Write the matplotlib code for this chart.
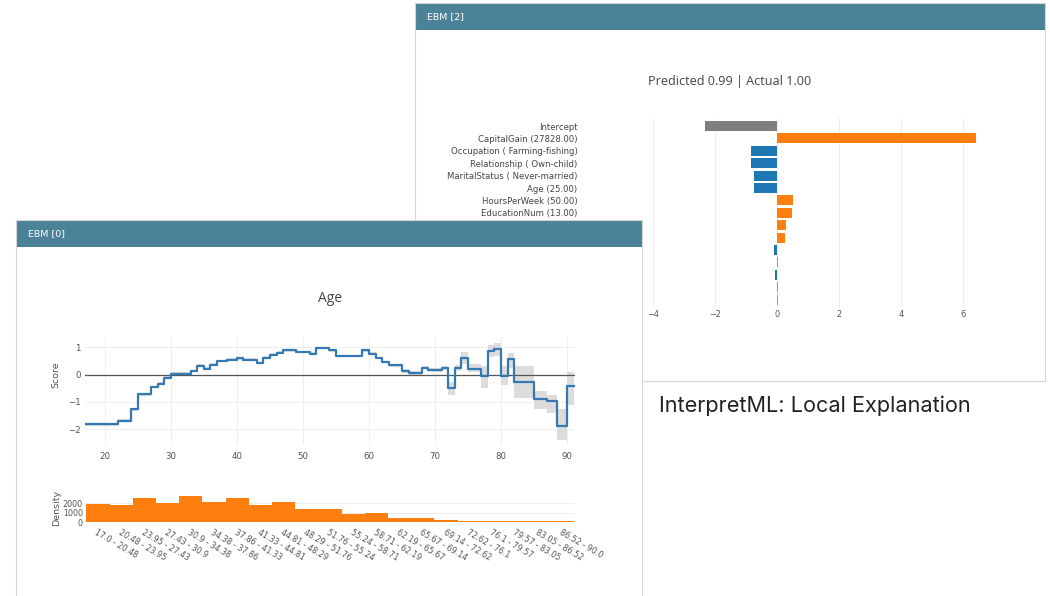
import matplotlib
matplotlib.use('Agg')
import matplotlib.pyplot as plt
from matplotlib.patches import Rectangle
import numpy as np

W, H = 1050, 596

# ---- Local explanation (EBM [2]) ----
feat_labels = ['Intercept', 'CapitalGain (27828.00)', 'Occupation ( Farming-fishing)',
               'Relationship ( Own-child)', 'MaritalStatus ( Never-married)', 'Age (25.00)',
               'HoursPerWeek (50.00)', 'EducationNum (13.00)', 'Education ( Bachelors)',
               'Gender ( Male)', 'Race ( White)', 'CapitalLoss (0.00)', 'WorkClass ( Private)',
               'NativeCountry ( United-States)', 'fnlwgt (184000.00)']
feat_values = [-2.31, 6.43, -0.84, -0.82, -0.74, -0.73, 0.54, 0.48, 0.29, 0.27,
               -0.08, 0.05, -0.05, 0.04, 0.03]
bar_ticks = [-4, -2, 0, 2, 4, 6]
bar_tick_labels = ['−4', '−2', '0', '2', '4', '6']

# ---- Age shape function (EBM [0]) ----
age_starts = [17, 22, 24, 25, 27, 28, 29, 30, 33, 34, 35, 36, 37, 38.5, 40, 41, 43, 44,
              45, 46, 47, 49, 51, 52, 54, 55, 59, 60, 61, 62, 63, 65, 66, 68, 69, 71,
              72, 73, 74, 75, 77, 78, 79, 80, 81, 82, 85, 87, 88.5, 90]
age_end = 91
age_score = [-1.82, -1.68, -1.27, -0.72, -0.45, -0.33, -0.11, 0.04, 0.13, 0.33, 0.22, 0.37,
             0.50, 0.55, 0.60, 0.55, 0.43, 0.62, 0.73, 0.80, 0.89, 0.83, 0.77, 0.97, 0.89,
             0.68, 0.89, 0.77, 0.61, 0.46, 0.34, 0.12, 0.06, 0.26, 0.18, 0.24,
             -0.48, 0.24, 0.61, 0.21, -0.06, 0.87, 0.93, -0.06, 0.56, -0.27, -0.88, -0.97,
             -1.88, -0.43]
age_lo = [-1.87, -1.73, -1.32, -0.77, -0.50, -0.38, -0.16, -0.01, 0.08, 0.28, 0.17, 0.32,
          0.45, 0.50, 0.55, 0.50, 0.38, 0.57, 0.68, 0.75, 0.84, 0.78, 0.72, 0.92, 0.84,
          0.63, 0.84, 0.72, 0.56, 0.41, 0.29, 0.05, -0.01, 0.19, 0.11, 0.16,
          -0.76, 0.14, 0.39, 0.10, -0.50, 0.65, 0.70, -0.38, 0.24, -0.87, -1.25, -1.40,
          -2.40, -1.10]
age_hi = [-1.77, -1.63, -1.22, -0.67, -0.40, -0.28, -0.06, 0.09, 0.18, 0.38, 0.27, 0.42,
          0.55, 0.60, 0.65, 0.60, 0.48, 0.67, 0.78, 0.85, 0.94, 0.88, 0.82, 1.02, 0.94,
          0.73, 0.94, 0.82, 0.66, 0.51, 0.39, 0.19, 0.13, 0.33, 0.25, 0.32,
          -0.27, 0.34, 0.83, 0.40, 0.30, 1.10, 1.15, 0.30, 0.78, 0.30, -0.60, -0.73,
          -1.25, 0.10]
score_xticks = [20, 30, 40, 50, 60, 70, 80, 90]
score_yticks = [1, 0, -1, -2]

bin_labels = ['17.0 - 20.48', '20.48 - 23.95', '23.95 - 27.43', '27.43 - 30.9',
              '30.9 - 34.38', '34.38 - 37.86', '37.86 - 41.33', '41.33 - 44.81',
              '44.81 - 48.29', '48.29 - 51.76', '51.76 - 55.24', '55.24 - 58.71',
              '58.71 - 62.19', '62.19 - 65.67', '65.67 - 69.14', '69.14 - 72.62',
              '72.62 - 76.1', '76.1 - 79.57', '79.57 - 83.05', '83.05 - 86.52', '86.52 - 90.0']
bin_counts = [1930, 1820, 2570, 2000, 2790, 2110, 2610, 1790, 2140, 1390, 1360, 820, 960,
              460, 390, 180, 140, 110, 100, 70, 100]
density_yticks = [0, 1000, 2000]

HDR = '#4b8298'
BORDER = '#d6d6d6'
ORANGE = '#ff7f0e'
BLUE = '#1f77b4'
GRAY = '#7f7f7f'
TXT = '#444444'

fig = plt.figure(figsize=(W / 100, H / 100), dpi=100)
fig.patch.set_facecolor('white')


def box(x0, y0, x1, y1, z):
    return fig.add_axes([x0 / W, 1 - y1 / H, (x1 - x0) / W, (y1 - y0) / H], zorder=z)


def panel(x0, y0, x1, y1, hdr_h, title, z):
    ax = box(x0, y0, x1, y1, z)
    ax.set_xlim(x0, x1)
    ax.set_ylim(y1, y0)
    ax.set_xticks([])
    ax.set_yticks([])
    ax.set_facecolor('white')
    for s in ax.spines.values():
        s.set_color(BORDER)
        s.set_linewidth(0.8)
    ax.add_patch(Rectangle((x0, y0), x1 - x0, hdr_h, color=HDR, lw=0))
    ax.text(x0 + 12, y0 + hdr_h / 2, title, color='white', fontsize=6.8,
            va='center', ha='left')
    return ax


# ---------- back panel ----------
pb = panel(415, 3, 1045, 381, 27, 'EBM [2]', 0)
pb.text(730, 81, 'Predicted 0.99 | Actual 1.00', ha='center', va='center',
        fontsize=9.1, family='Open Sans', color=TXT)

axb = box(640, 118, 1000, 307, 1)
axb.set_facecolor('none')
ypos = -np.arange(len(feat_values))
cols = [GRAY] + [ORANGE if v > 0 else BLUE for v in feat_values[1:]]
axb.barh(ypos, feat_values, height=0.8, color=cols, zorder=2)
axb.set_xlim(-4.41, 7.2)
axb.set_ylim(-14.6, 0.65)
axb.set_yticks(ypos, feat_labels)
axb.tick_params(axis='y', length=0, pad=45, labelsize=6.1, labelcolor=TXT)
axb.set_xticks(bar_ticks, bar_tick_labels)
axb.tick_params(axis='x', length=0, pad=2, labelsize=5.9, labelcolor='#555555')
axb.grid(axis='x', color='#eeeeee', lw=0.8, zorder=0)
axb.set_axisbelow(True)
for s in axb.spines.values():
    s.set_visible(False)

fig.text(659 / W, 1 - 406 / H, 'InterpretML: Local Explanation', family='Inter',
         fontsize=15.6, color='#222222', ha='left', va='center')

# ---------- front panel ----------
pf = panel(16, 220, 642, 610, 27, 'EBM [0]', 2)
pf.text(330, 298, 'Age', ha='center', va='center', fontsize=10, family='Open Sans', color=TXT)
pf.text(56, 375, 'Score', ha='center', va='center', rotation=90, fontsize=6.8, color='#555555')
pf.text(57, 508, 'Density', ha='center', va='center', rotation=90, fontsize=6.8, color='#555555')

axs = box(85, 337, 575, 445, 3)
axs.set_facecolor('none')
xs = age_starts + [age_end]
axs.fill_between(xs, age_lo + [age_lo[-1]], age_hi + [age_hi[-1]], step='post',
                 color='#dcdcdc', lw=0, zorder=1)
axs.plot(xs, age_score + [age_score[-1]], drawstyle='steps-post', color='#3579b4',
         lw=1.6, zorder=3)
axs.axhline(0, color='#555555', lw=0.9, zorder=2)
axs.set_xlim(17, 91.2)
axs.set_ylim(-2.575, 1.377)
axs.set_xticks(score_xticks)
axs.set_yticks(score_yticks)
axs.tick_params(length=0, labelsize=6.2, labelcolor='#555555')
axs.tick_params(axis='x', pad=5)
axs.tick_params(axis='y', pad=3)
axs.grid(color='#efefef', lw=0.8, zorder=0)
axs.set_axisbelow(True)
for s in axs.spines.values():
    s.set_visible(False)

axd = box(85, 494, 575, 522, 4)
axd.set_facecolor('none')
xi = np.arange(len(bin_counts))
axd.bar(xi, bin_counts, width=1.0, color=ORANGE, lw=0, zorder=2)
axd.set_xlim(-0.56, len(bin_counts) - 0.44)
axd.set_ylim(0, 2995)
axd.set_yticks(density_yticks)
axd.set_xticks(xi, bin_labels, rotation=-30, ha='left', rotation_mode='anchor')
axd.tick_params(length=0, labelsize=5.8, labelcolor='#555555')
axd.tick_params(axis='x', pad=4)
axd.tick_params(axis='y', pad=1.5)
axd.grid(axis='y', color='#efefef', lw=0.8, zorder=0)
axd.set_axisbelow(True)
for s in axd.spines.values():
    s.set_visible(False)

fig.savefig('out.png', dpi=100, facecolor='white')
